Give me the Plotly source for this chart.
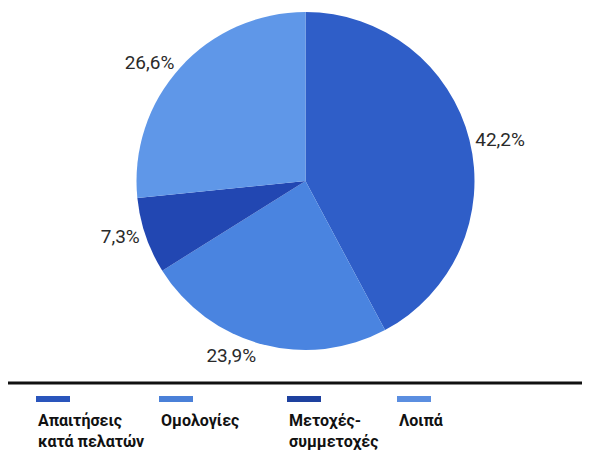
import plotly.graph_objects as go

categories = ["Απαιτήσεις<br>κατά πελατών", "Ομολογίες", "Μετοχές-<br>συμμετοχές", "Λοιπά"]
values = [42.2, 23.9, 7.3, 26.6]
value_labels = ["42,2%", "23,9%", "7,3%", "26,6%"]
colors = ["#2f5ec8", "#4a84e0", "#2247b2", "#5f97e8"]
legend_colors = ["#2a55bc", "#4a80d8", "#1e419f", "#5b8ee0"]

FONT = "Roboto, sans-serif"

fig = go.Figure()
fig.add_trace(go.Pie(
    labels=categories,
    values=values,
    text=value_labels,
    textinfo="text",
    textposition="outside",
    sort=False,
    direction="clockwise",
    rotation=0,
    marker=dict(colors=colors, line=dict(width=0)),
    textfont=dict(family=FONT, size=19, color="#2a2a2a"),
    showlegend=False,
    hoverinfo="label+percent",
    domain=dict(x=[125/590, 470/590], y=[1-342/450, 1-4/450]),
))

# separator line
fig.add_shape(type="line", xref="paper", yref="paper", x0=0, x1=1,
              y0=1-375/450, y1=1-375/450, line=dict(color="#111111", width=3))

legend_x = [28, 151, 279, 389]
for cat, col, lx in zip(categories, legend_colors, legend_x):
    fig.add_shape(type="rect", xref="paper", yref="paper",
                  x0=lx/590, x1=(lx+34)/590, y0=1-394/450, y1=1-388/450,
                  fillcolor=col, line=dict(width=0))
    for i, line in enumerate(cat.split("<br>")):
        fig.add_annotation(xref="paper", yref="paper", x=(lx+1)/590,
                           y=1-(412+21*i)/450,
                           text="<b>%s</b>" % line, showarrow=False,
                           xanchor="left", yanchor="middle", align="left",
                           borderpad=0,
                           font=dict(family=FONT, size=16, color="#111111"))

fig.update_layout(width=590, height=450, margin=dict(l=0, r=0, t=0, b=0),
                  paper_bgcolor="white", plot_bgcolor="white")
fig.write_html("out.html")
